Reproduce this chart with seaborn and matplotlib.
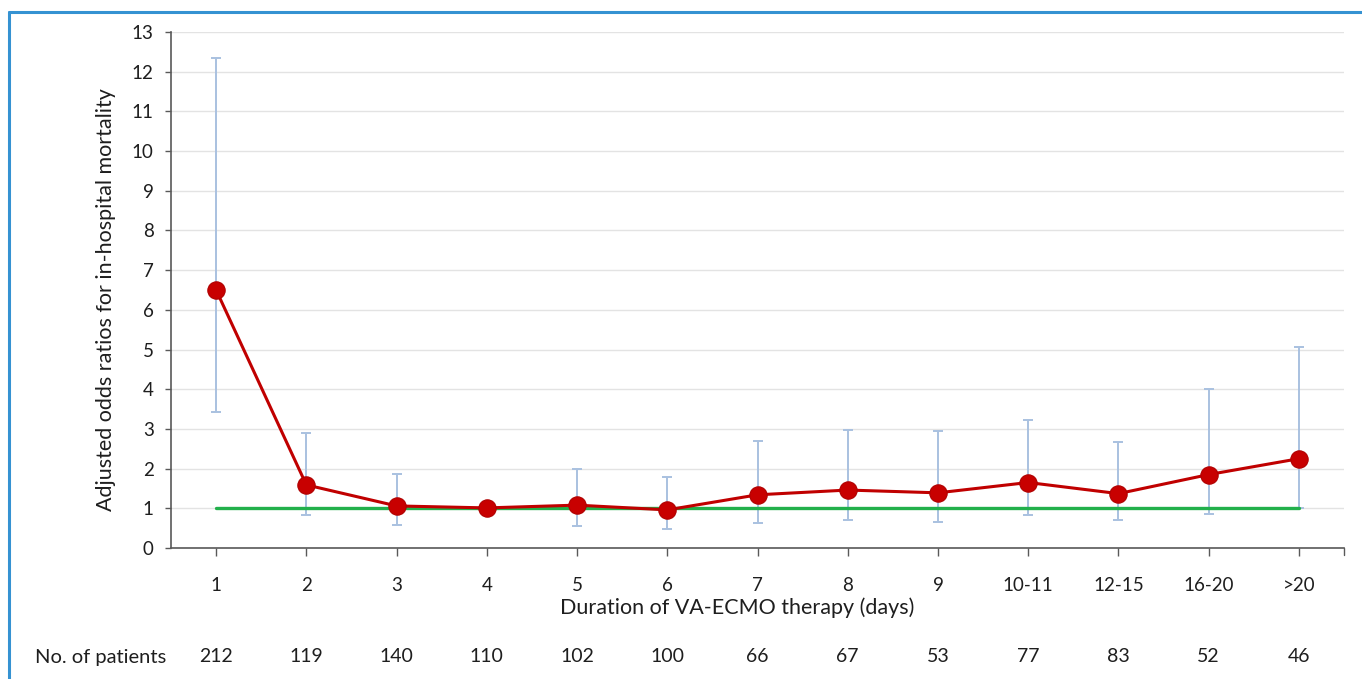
import matplotlib
matplotlib.use("Agg")
import matplotlib.pyplot as plt
import seaborn as sns
import numpy as np
import pandas as pd
from matplotlib.lines import Line2D

categories = ["1", "2", "3", "4", "5", "6", "7", "8", "9", "10-11", "12-15", "16-20", ">20"]
odds_ratio = [6.50, 1.59, 1.06, 1.01, 1.08, 0.96, 1.34, 1.46, 1.39, 1.65, 1.37, 1.85, 2.25]
ci_lower = [3.43, 0.83, 0.58, np.nan, 0.55, 0.48, 0.63, 0.70, 0.65, 0.82, 0.70, 0.85, 1.00]
ci_upper = [12.34, 2.90, 1.86, np.nan, 1.99, 1.79, 2.70, 2.97, 2.95, 3.22, 2.67, 4.01, 5.06]
patients = [212, 119, 140, 110, 102, 100, 66, 67, 53, 77, 83, 52, 46]
reference_or = 1.0
y_ticks = list(range(0, 14))

sns.set_theme(style="white")
plt.rcParams["font.family"] = ["Lato", "DejaVu Sans"]

x = np.arange(len(categories))
df = pd.DataFrame({"pos": x, "duration": categories, "or": odds_ratio,
                   "lo": ci_lower, "hi": ci_upper})

fig = plt.figure(figsize=(13.62, 6.79), dpi=100)
ax = fig.add_axes([171 / 1362, 1 - 548 / 679, (1344 - 171) / 1362, (548 - 32) / 679])

or_arr = np.array(odds_ratio)
lo = or_arr - np.array(ci_lower)
hi = np.array(ci_upper) - or_arr
ax.errorbar(x, or_arr, yerr=[lo, hi], fmt="none", ecolor="#A9C1E0",
            elinewidth=1.4, capsize=3.5, capthick=1.4, zorder=2)

# reference line at OR = 1
sns.lineplot(x=[x[0], x[-1]], y=[reference_or, reference_or],
             ax=ax, color="#22B04B", linewidth=2.4, zorder=3, sort=False)

sns.lineplot(data=df, x="pos", y="or", ax=ax, sort=False,
             color="#C00000", linewidth=2.2, marker="o", markersize=12.5,
             markerfacecolor="#C80000", markeredgecolor="#B00000",
             markeredgewidth=0.8, zorder=4)

ax.set_xlim(-0.5, len(categories) - 0.5)
ax.set_ylim(0, 13)
ax.set_yticks(y_ticks)
ax.set_xticks(x)
ax.set_xticklabels(categories)
ax.grid(axis="y", color="#E3E3E3", linewidth=1.0)
ax.grid(axis="x", visible=False)
ax.set_axisbelow(True)

for s in ["top", "right"]:
    ax.spines[s].set_visible(False)
for s in ["left", "bottom"]:
    ax.spines[s].set_color("#595959")
    ax.spines[s].set_linewidth(1.2)

ax.tick_params(axis="y", which="both", left=True, length=4.5, width=1,
               color="#595959", labelsize=13.5, pad=8, labelcolor="#1E1E1E")
ax.tick_params(axis="x", which="both", bottom=True, length=6, width=1,
               color="#595959", labelsize=13.5, pad=15, labelcolor="#1E1E1E")
# extra tick at right end of x axis
ax.plot([1, 1], [0, -0.013], transform=ax.transAxes, color="#595959",
        lw=1, clip_on=False)

ax.set_xlabel("Duration of VA-ECMO therapy (days)", fontsize=15.5, color="#1E1E1E")
ax.set_ylabel("Adjusted odds ratios for in-hospital mortality", fontsize=15.5,
              color="#1E1E1E")
ax.xaxis.set_label_coords(0.483, -0.095)
ax.yaxis.set_label_coords(-0.047, 0.482)

# patient counts row
trans = matplotlib.transforms.blended_transform_factory(ax.transData, fig.transFigure)
for xi, n in zip(x, patients):
    ax.text(xi, 1 - 657 / 679, str(n), transform=trans, ha="center",
            va="center", fontsize=14, color="#1E1E1E")
fig.text(35 / 1362, 1 - 657 / 679, "No. of patients", ha="left", va="center",
         fontsize=14.5, color="#1E1E1E")

# blue frame
fig.add_artist(Line2D([9 / 1362, 1.0], [1 - 12 / 679, 1 - 12 / 679],
                      transform=fig.transFigure, color="#3592D2", lw=2.2))
fig.add_artist(Line2D([9 / 1362, 9 / 1362], [0, 1 - 12 / 679],
                      transform=fig.transFigure, color="#3592D2", lw=2.2))

fig.savefig("out.png", dpi=100)
